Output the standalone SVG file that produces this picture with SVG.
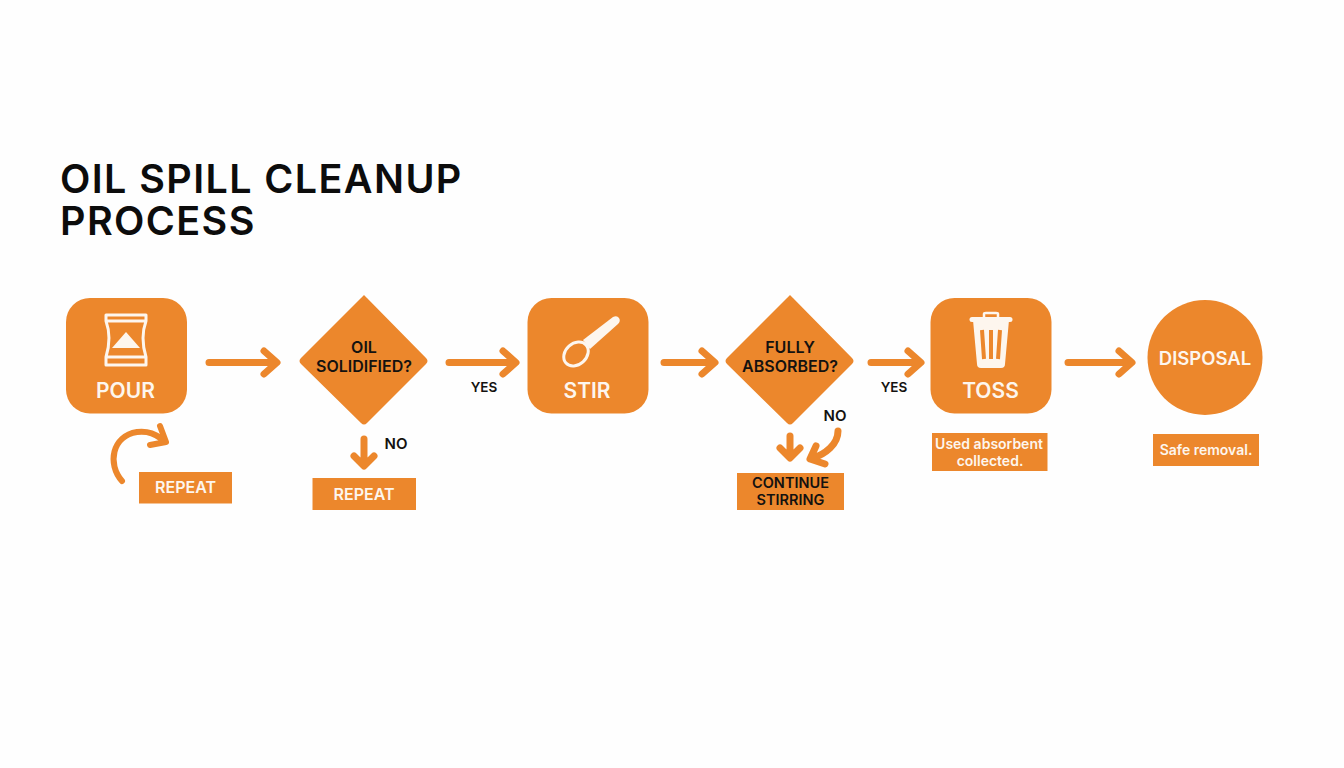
<svg xmlns="http://www.w3.org/2000/svg" width="1344" height="768" viewBox="0 0 1344 768">
<style>
.o{fill:#ec872c}
.w{fill:#fdf6ee;font-family:Inter,"Liberation Sans",sans-serif;font-weight:600;text-anchor:middle}
.k{fill:#141210;font-family:Inter,"Liberation Sans",sans-serif;font-weight:600;text-anchor:middle}
.c{fill:none;stroke:#ec872c;stroke-width:7;stroke-linecap:round;stroke-linejoin:round}
.i{fill:none;stroke:#fdf6ee;stroke-width:3;stroke-linejoin:round;stroke-linecap:round}
</style>
<rect width="1344" height="768" fill="#fefefe"/>
<text id="title" font-family="Inter,'Liberation Sans',sans-serif" font-weight="600" font-size="39.500" letter-spacing="1.400" fill="#0c0c0c"><tspan x="60" y="193">OIL SPILL CLEANUP</tspan><tspan x="60" y="235">PROCESS</tspan></text>
<g id="connectors">
<path class="c" d="M209 362.500H276M264 351L277 362.500L264 374"/>
<path class="c" d="M449 362.500H515M503 351L516 362.500L503 374"/>
<path class="c" d="M664 362.500H714M702 351L715 362.500L702 374"/>
<path class="c" d="M871 362.500H920M908 351L921 362.500L908 374"/>
<path class="c" d="M1068 362.500H1131M1119 351L1132 362.500L1119 374"/>
<path class="c" d="M364 439V465M354 456L364 466L374 456"/>
<path class="c" d="M790 436V457M780 448L790 458L800 448"/>
<path class="c" d="M838 431C838 444 826 454 811 459M816 446L810 459L825 464"/>
<path class="c" stroke-width="6" style="stroke-width:6" d="M122 481C107 464 112 436 137 432C146 431 154 433 160 438M160 426L166 442L150 445"/>
</g>
<g id="pour">
<rect class="o" x="66" y="298" width="121" height="115.500" rx="24"/>
<path class="i" d="M106 315H146V321C142 332 142 344 146 357V365H106V357C110 344 110 332 106 321ZM106 321H146M106 357H146"/>
<path d="M126 332L140 348H112Z" fill="#fdf6ee"/>
<text class="w" x="125.500" y="398" font-size="21">POUR</text>
</g>
<g id="repeat1">
<rect class="o" x="139" y="472" width="93" height="31.500"/>
<text class="w" x="185.500" y="493" font-size="16">REPEAT</text>
</g>
<g id="solidified">
<path class="o" d="M364 295Q364 295 367 298L426 358Q429 361 426 364L367 423Q364 426 361 423L301 364Q298 361 301 358L361 298Q364 295 364 295Z"/>
<text class="k" x="364" y="353" font-size="16">OIL</text>
<text class="k" x="364" y="371.500" font-size="16">SOLIDIFIED?</text>
</g>
<text class="k" x="396" y="449" font-size="15">NO</text>
<g id="repeat2">
<rect class="o" x="312.500" y="478" width="103.500" height="32"/>
<text class="w" x="364" y="500" font-size="16">REPEAT</text>
</g>
<text class="k" x="484" y="392" font-size="13.500">YES</text>
<g id="stir">
<rect class="o" x="527.500" y="298" width="121" height="115.500" rx="24"/>
<path d="M583 340L613 317Q617 315 619 318Q621 321 618 324L590 349Z" fill="#fdf6ee"/>
<ellipse cx="576" cy="354" rx="10.500" ry="13.500" transform="rotate(48 576 354)" fill="#ec872c" stroke="#fdf6ee" stroke-width="3"/>
<text class="w" x="587" y="398" font-size="21">STIR</text>
</g>
<g id="absorbed">
<path class="o" d="M790 295Q790 295 793 298L852 358Q855 361 852 364L793 423Q790 426 787 423L727 364Q724 361 727 358L787 298Q790 295 790 295Z"/>
<text class="k" x="790" y="353" font-size="16">FULLY</text>
<text class="k" x="790" y="371.500" font-size="16">ABSORBED?</text>
</g>
<text class="k" x="835" y="421" font-size="15">NO</text>
<g id="continue">
<rect class="o" x="737" y="473" width="107" height="37"/>
<text class="k" x="790.500" y="488" font-size="14.500">CONTINUE</text>
<text class="k" x="790.500" y="505" font-size="14.500">STIRRING</text>
</g>
<text class="k" x="894" y="392" font-size="13.500">YES</text>
<g id="toss">
<rect class="o" x="930.500" y="298" width="121" height="115.500" rx="24"/>
<path d="M973 320H1009L1005 364Q1005 368 1001 368H981Q977 368 977 364Z" fill="#fdf6ee"/>
<path d="M972 319.500H1010" stroke="#fdf6ee" stroke-width="5" stroke-linecap="round"/>
<path d="M984 317V314Q984 313 986 313H996Q998 313 998 314V317" fill="none" stroke="#fdf6ee" stroke-width="2.500"/>
<path d="M982 330L984 359M991 330V359M1000 330L998 359" stroke="#ec872c" stroke-width="4" fill="none"/>
<text class="w" x="990.500" y="398" font-size="21">TOSS</text>
</g>
<g id="note1">
<rect class="o" x="932" y="433" width="115.500" height="38"/>
<text class="w" x="989" y="449" font-size="14">Used absorbent</text>
<text class="w" x="990" y="466" font-size="14">collected.</text>
</g>
<g id="disposal">
<circle class="o" cx="1205" cy="357.500" r="57.500"/>
<text class="w" x="1205" y="365" font-size="18.500">DISPOSAL</text>
</g>
<g id="note2">
<rect class="o" x="1153" y="434" width="106" height="32"/>
<text class="w" x="1206" y="455" font-size="14">Safe removal.</text>
</g>
</svg>
